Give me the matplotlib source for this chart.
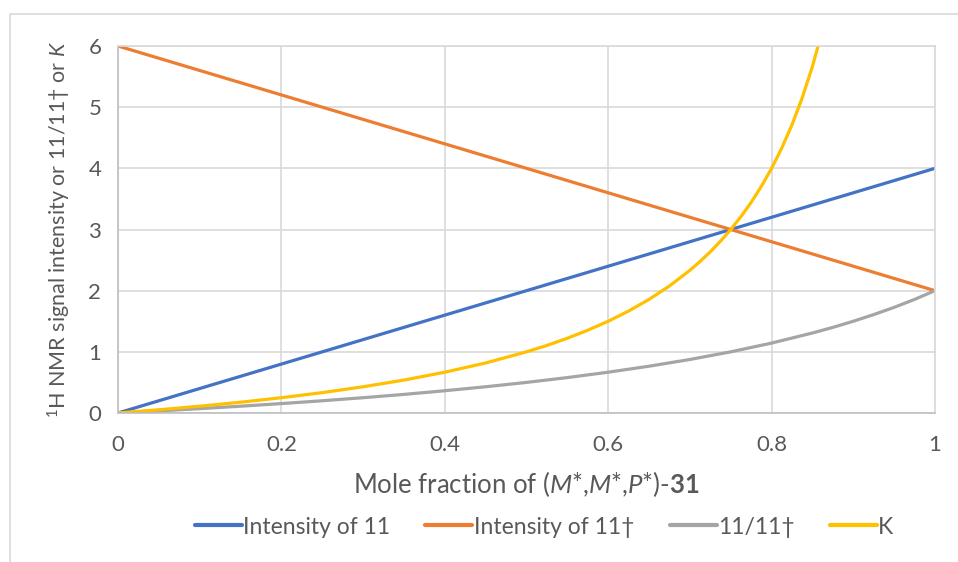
import matplotlib
matplotlib.use("Agg")
import matplotlib.pyplot as plt
from matplotlib.patches import Rectangle

plt.rcParams["font.family"] = ["Lato", "DejaVu Sans"]
plt.rcParams["mathtext.fontset"] = "custom"
plt.rcParams["mathtext.rm"] = "Lato"
plt.rcParams["mathtext.it"] = "Lato:italic"
plt.rcParams["mathtext.bf"] = "Lato:bold"

# Mole fraction of (M*,M*,P*)-31
x_lin = [0.0, 1.0]
intensity_11 = [0.0, 4.0]
intensity_11_dagger = [6.0, 2.0]

x_ratio = [0.0, 0.05, 0.1, 0.15, 0.2, 0.25, 0.3, 0.35, 0.4, 0.45, 0.5,
           0.55, 0.6, 0.65, 0.7, 0.75, 0.8, 0.85, 0.875, 0.9, 0.925, 0.95,
           0.975, 1.0]
ratio_11_11_dagger = [0.0, 0.034, 0.071, 0.111, 0.154, 0.2, 0.25, 0.304,
                      0.364, 0.429, 0.5, 0.579, 0.667, 0.765, 0.875, 1.0,
                      1.143, 1.308, 1.4, 1.5, 1.609, 1.727, 1.857, 2.0]

x_k = [0.0, 0.05, 0.1, 0.15, 0.2, 0.25, 0.3, 0.35, 0.4, 0.45, 0.5, 0.525,
       0.55, 0.575, 0.6, 0.625, 0.65, 0.675, 0.7, 0.7125, 0.725, 0.7375,
       0.75, 0.7625, 0.775, 0.7875, 0.8, 0.8125, 0.825, 0.8375, 0.85,
       0.8625]
k_values = [0.0, 0.053, 0.111, 0.176, 0.25, 0.333, 0.429, 0.538, 0.667,
            0.818, 1.0, 1.105, 1.222, 1.353, 1.5, 1.667, 1.857, 2.077,
            2.333, 2.478, 2.636, 2.810, 3.0, 3.211, 3.444, 3.706, 4.0,
            4.333, 4.714, 5.154, 5.667, 6.273]

series_labels = ["Intensity of 11", "Intensity of 11\u2020", "11/11\u2020", "K"]
x_ticks = [0, 0.2, 0.4, 0.6, 0.8, 1]
x_tick_labels = ["0", "0.2", "0.4", "0.6", "0.8", "1"]
y_ticks = [0, 1, 2, 3, 4, 5, 6]

text_color = "#595959"
grid_color = "#D9D9D9"

fig = plt.figure(figsize=(9.58, 5.62), dpi=100)
fig.patches.append(Rectangle((10 / 958, -0.1), 1.2, 1.1 - 14 / 562,
                             transform=fig.transFigure, fill=False,
                             edgecolor=grid_color, lw=1.2, zorder=0))

ax = fig.add_axes([118 / 958, 1 - 413 / 562, (935 - 118) / 958, (413 - 46) / 562])

lw = 2.3
colors = ["#4472C4", "#ED7D31", "#A5A5A5", "#FFC000"]
ax.plot(x_lin, intensity_11, color=colors[0], lw=lw, label=series_labels[0],
        solid_capstyle="round", solid_joinstyle="round")
ax.plot(x_lin, intensity_11_dagger, color=colors[1], lw=lw, label=series_labels[1],
        solid_capstyle="round", solid_joinstyle="round")
ax.plot(x_ratio, ratio_11_11_dagger, color=colors[2], lw=lw, label=series_labels[2],
        solid_capstyle="round", solid_joinstyle="round")
ax.plot(x_k, k_values, color=colors[3], lw=lw, label=series_labels[3],
        solid_capstyle="round", solid_joinstyle="round")

ax.set_xlim(0, 1)
ax.set_ylim(0, 6)
ax.set_xticks(x_ticks)
ax.set_xticklabels(x_tick_labels)
ax.set_yticks(y_ticks)
ax.grid(True, color=grid_color, lw=1.2)
ax.set_axisbelow(True)
for side in ["top", "right"]:
    ax.spines[side].set_color(grid_color)
    ax.spines[side].set_linewidth(1.2)
for side in ["left", "bottom"]:
    ax.spines[side].set_color("#BFBFBF")
    ax.spines[side].set_linewidth(1.2)
ax.tick_params(length=0, labelsize=16, colors=text_color)
ax.tick_params(axis="x", pad=16)
ax.tick_params(axis="y", pad=12)

ax.set_xlabel(r"Mole fraction of ($\mathit{M}$*,$\mathit{M}$*,$\mathit{P}$*)-$\mathbf{31}$",
              fontsize=18.5, color=text_color, labelpad=10)
ax.set_ylabel(r"$^{1}$H NMR signal intensity or 11/11" + "\u2020" + r" or $\mathit{K}$",
              fontsize=15.5, color=text_color, labelpad=11)

leg = fig.legend(loc="center", bbox_to_anchor=(544 / 958, 1 - 527 / 562), ncol=4,
                 frameon=False, fontsize=16.5, handlelength=2.05, handletextpad=0.05,
                 columnspacing=1.55, labelcolor=text_color)
for line in leg.get_lines():
    line.set_linewidth(3.0)

fig.savefig("out.png", dpi=100)
